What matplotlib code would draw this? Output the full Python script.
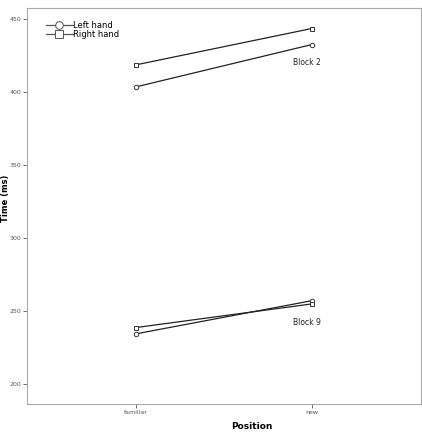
import matplotlib
matplotlib.use("Agg")
import matplotlib.pyplot as plt
from matplotlib.lines import Line2D

positions = ["familiar", "new"]
block2_left = [403.4, 432.4]
block2_right = [418.5, 443.4]
block9_left = [234.1, 256.8]
block9_right = [238.4, 254.6]
yticks = [200, 250, 300, 350, 400, 450]

fig = plt.figure(figsize=(4.22, 4.42), dpi=100)
ax = fig.add_axes([0.064, 0.086, 0.933, 0.896])

x = list(range(len(positions)))
lc = "#222222"
for vals, mk in [(block2_left, "o"), (block2_right, "s"), (block9_left, "o"), (block9_right, "s")]:
    ax.plot(x, vals, color=lc, lw=0.9, marker=mk, ms=3.2, mfc="white", mec="#333333", mew=0.7)

ax.text(0.97, 420, "Block 2", fontsize=5.5, color="#222222", ha="center", va="center")
ax.text(0.97, 242, "Block 9", fontsize=5.5, color="#222222", ha="center", va="center")

ax.set_xlim(-0.62, 1.62)
ax.set_ylim(186, 457.5)
ax.set_xticks(x)
ax.set_xticklabels(positions)
ax.set_yticks(yticks)
ax.tick_params(axis="both", labelsize=4.5, colors="#555555", length=3, width=0.6, pad=1)
for s in ax.spines.values():
    s.set_color("#aaaaaa")
    s.set_linewidth(0.8)

ax.set_xlabel("Position", fontsize=6.5, fontweight="bold")
ax.xaxis.set_label_coords(0.57, -0.045)
ax.set_ylabel("Time (ms)", fontsize=6, fontweight="bold")
ax.yaxis.set_label_coords(-0.042, 0.52)

handles = [Line2D([0], [0], color="#555555", lw=0.9, marker="o", ms=5.5, mfc="white", mec="#555555", mew=0.7),
           Line2D([0], [0], color="#555555", lw=0.9, marker="s", ms=5.5, mfc="white", mec="#555555", mew=0.7)]
ax.legend(handles, ["Left hand", "Right hand"], loc="upper left", bbox_to_anchor=(0.04, 0.975),
          frameon=False, fontsize=6, handlelength=3.2, handletextpad=0.0, labelspacing=0.0,
          borderaxespad=0.0)

fig.savefig("out.png", dpi=100)
